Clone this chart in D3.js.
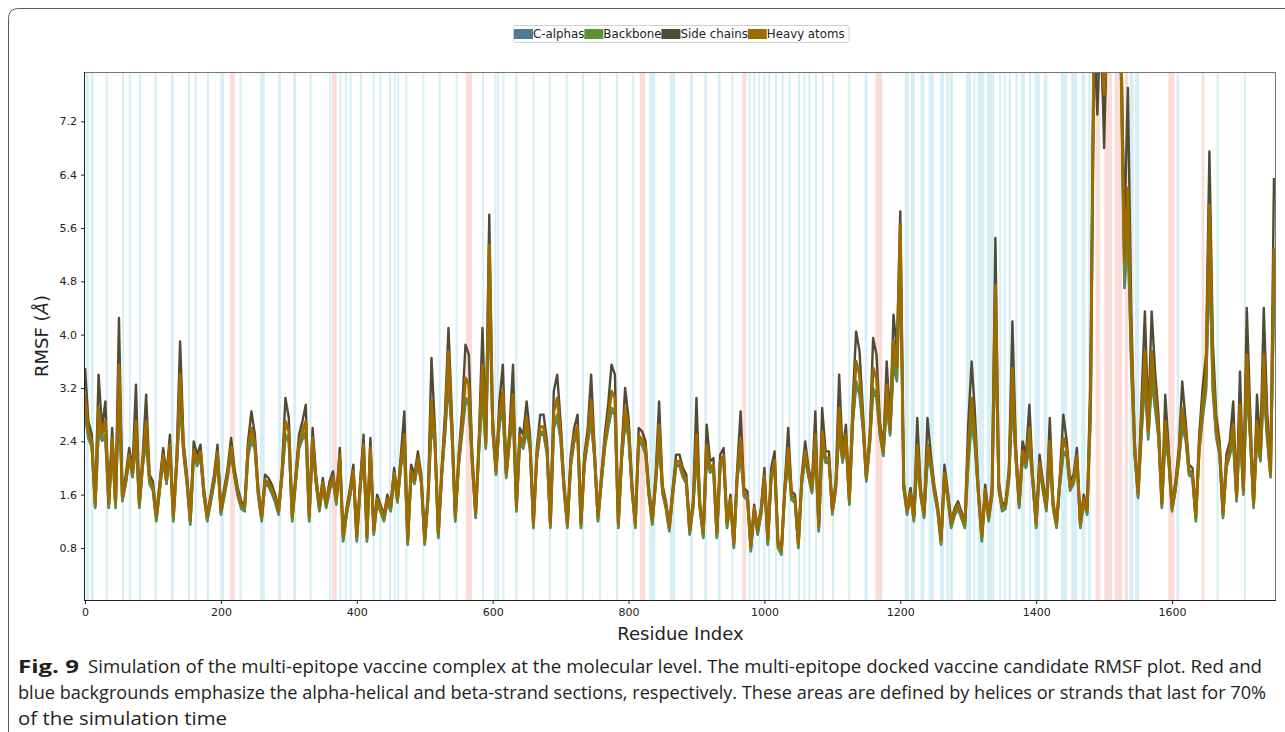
<!DOCTYPE html>
<html><head><meta charset="utf-8">
<script src="https://cdn.jsdelivr.net/npm/d3@7"></script>
<style>body{margin:0;background:#fff;} svg{display:block;}</style>
</head><body>
<svg id="chart" width="1285" height="732"></svg>
<script>
// ---------- data ----------
const residueStep = 5;
const residueDomain = [0, 1753];
const xTickValues = [0, 200, 400, 600, 800, 1000, 1200, 1400, 1600];
const yTickValues = [0.8, 1.6, 2.4, 3.2, 4.0, 4.8, 5.6, 6.4, 7.2];
const yDomain = [0.02, 7.94];
const seriesNames = ["C-alphas", "Backbone", "Side chains", "Heavy atoms"];
const seriesColors = ["#4e7b97", "#5b9234", "#4f4b35", "#9d6b00"];
const seriesWidths = [2.6, 2.6, 2.4, 3.0];

const sideChains = [
3.5,2.7,2.5,1.5,3.4,2.6,3.0,1.5,2.6,1.5,
4.25,1.6,1.9,2.3,2.0,3.25,1.5,2.2,3.1,1.9,
1.8,1.3,1.8,2.3,1.9,2.5,1.3,2.2,3.9,2.4,
1.9,1.25,2.4,2.2,2.35,1.7,1.3,1.6,1.9,2.35,
1.4,1.7,2.0,2.45,2.0,1.7,1.5,1.45,2.4,2.85,
2.5,1.7,1.3,1.9,1.85,1.75,1.6,1.4,2.0,3.05,
2.75,1.3,1.9,2.5,2.7,2.95,1.3,2.6,1.9,1.45,
1.85,1.5,1.8,1.95,1.55,2.3,1.0,1.4,1.7,2.05,
1.0,1.8,2.5,1.0,2.45,1.1,1.6,1.45,1.3,
1.6,1.45,2.0,1.6,2.2,2.85,0.95,2.05,1.9,2.25,
1.9,0.95,1.65,3.65,2.6,1.05,2.0,2.85,4.1,2.8,
1.3,2.2,2.85,3.85,3.7,2.2,1.35,2.5,4.1,2.5,
5.8,2.8,2.0,3.0,3.55,1.95,2.6,3.55,1.45,2.6,
2.5,3.0,2.5,1.2,2.3,2.8,2.8,2.4,1.2,3.15,
3.4,2.7,1.8,1.2,2.2,2.6,2.8,1.2,2.2,2.6,
3.4,2.3,1.3,1.9,2.5,2.95,3.55,3.4,1.2,2.3,
3.2,2.75,1.8,1.2,2.6,2.55,2.4,1.7,1.25,1.9,
3.0,1.75,1.5,1.15,1.7,2.2,
2.2,2.0,1.9,1.1,1.5,3.05,1.5,1.05,2.65,2.1,
2.15,1.05,2.2,2.3,1.2,1.6,0.9,2.0,2.85,1.7,
1.65,0.85,1.45,1.1,1.4,2.0,0.95,2.0,2.25,0.9,
0.8,1.75,2.6,1.65,1.6,0.9,1.9,2.4,2.0,1.75,
2.85,1.15,2.9,2.25,2.25,1.4,1.8,3.4,2.25,2.65,
1.55,3.0,4.05,3.75,2.85,1.9,2.5,3.95,3.7,2.7,
2.3,3.6,2.7,4.3,3.75,5.85,1.8,1.4,1.7,1.3,
2.75,1.7,1.35,2.75,2.2,1.75,1.45,0.95,2.05,1.65,
1.2,1.4,1.5,1.35,1.2,2.65,3.6,
2.8,1.7,1.0,1.75,1.3,1.7,5.45,1.8,1.45,1.5,
2.0,4.2,2.35,1.5,2.4,2.2,2.95,1.9,1.2,2.2,
1.8,1.45,2.75,1.5,1.2,1.9,2.8,2.4,1.8,1.9,
2.3,1.2,1.6,1.4,3.4,8.6,7.3,8.8,6.8,9.0,
9.2,9.0,8.8,8.5,5.6,7.7,4.3,2.4,1.65,3.0,
4.35,2.7,4.35,3.45,2.8,1.5,3.1,2.3,1.45,1.8,
2.3,3.3,2.7,2.05,2.0,1.3,2.5,3.2,3.7,6.75,
3.9,2.8,2.4,1.35,2.2,2.4,3.0,1.6,3.45,1.7,
4.4,2.85,1.5,3.1,2.3,4.4,2.85,2.0,6.35];

const heavyAtoms = [
3.1,2.55,2.4,1.47,2.9,2.5,2.7,1.47,2.45,1.47,
3.55,1.57,1.82,2.2,1.92,2.7,1.47,2.1,2.7,1.82,
1.72,1.27,1.72,2.2,1.82,2.35,1.27,2.1,3.4,2.3,
1.82,1.22,2.28,2.1,2.25,1.63,1.27,1.54,1.82,2.24,
1.37,1.63,1.92,2.32,1.92,1.63,1.45,1.42,2.28,2.6,
2.38,1.63,1.27,1.82,1.78,1.68,1.54,1.37,1.92,2.7,
2.55,1.27,1.82,2.38,2.55,2.7,1.27,2.45,1.82,1.42,
1.78,1.47,1.72,1.87,1.52,2.2,0.97,1.35,1.63,1.96,
0.97,1.72,2.35,0.97,2.3,1.07,1.54,1.4,1.27,
1.54,1.42,1.92,1.54,2.1,2.5,0.92,1.96,1.82,2.15,
1.82,0.92,1.58,3.0,2.45,1.02,1.92,2.65,3.75,2.62,
1.27,2.1,2.65,3.35,3.25,2.1,1.32,2.38,3.55,2.38,
5.35,2.65,1.97,2.8,3.15,1.92,2.48,3.1,1.42,2.48,
2.38,2.75,2.38,1.17,2.2,2.62,2.62,2.3,1.17,2.85,
3.05,2.55,1.72,1.17,2.1,2.48,2.62,1.17,2.1,2.48,
3.0,2.2,1.27,1.82,2.38,2.75,3.15,3.05,1.17,2.2,
2.9,2.6,1.72,1.17,2.48,2.43,2.3,1.63,1.22,1.82,
2.65,1.68,1.45,1.12,1.63,2.1,
2.1,1.92,1.82,1.07,1.45,2.5,1.45,1.02,2.35,2.0,
2.05,1.02,2.1,2.18,1.17,1.54,0.87,1.9,2.45,1.63,
1.58,0.82,1.4,1.07,1.35,1.88,0.92,1.9,2.12,0.87,
0.77,1.68,2.3,1.58,1.54,0.87,1.82,2.25,1.92,1.68,
2.5,1.12,2.55,2.15,2.15,1.37,1.72,2.9,2.15,2.5,
1.52,2.8,3.6,3.4,2.7,1.87,2.4,3.5,3.35,2.58,
2.25,3.25,2.58,3.9,3.5,5.65,1.74,1.37,1.63,1.27,
2.35,1.63,1.32,2.35,2.08,1.68,1.4,0.92,1.92,1.58,
1.17,1.35,1.45,1.3,1.17,2.3,3.05,
2.5,1.63,0.97,1.68,1.27,1.63,4.75,1.72,1.42,1.45,
1.9,3.5,2.22,1.47,2.25,2.08,2.6,1.82,1.17,2.08,
1.72,1.42,2.4,1.45,1.17,1.82,2.45,2.28,1.72,1.82,
2.18,1.17,1.54,1.37,3.0,8.4,8.3,8.6,7.6,8.8,
9.0,8.8,8.6,8.2,5.1,6.2,3.9,2.3,1.62,2.7,
3.75,2.55,3.75,3.15,2.6,1.47,2.7,2.18,1.42,1.72,
2.18,2.9,2.55,1.96,1.92,1.27,2.35,2.95,3.4,5.95,
3.5,2.6,2.28,1.32,2.08,2.28,2.65,1.57,2.95,1.67,
3.7,2.6,1.47,2.7,2.18,3.7,2.6,1.92,5.3];

const backbone = [
2.85,2.48,2.34,1.42,2.6,2.44,2.5,1.42,2.38,1.42,
3.2,1.52,1.78,2.15,1.88,2.45,1.42,2.05,2.45,1.78,
1.68,1.22,1.68,2.15,1.78,2.28,1.22,2.05,3.05,2.24,
1.78,1.17,2.22,2.05,2.19,1.59,1.22,1.5,1.78,2.18,
1.32,1.59,1.88,2.26,1.88,1.59,1.41,1.37,2.22,2.45,
2.32,1.59,1.22,1.78,1.74,1.64,1.5,1.32,1.88,2.5,
2.45,1.22,1.78,2.32,2.47,2.55,1.22,2.38,1.78,1.37,
1.74,1.42,1.68,1.83,1.47,2.15,0.92,1.31,1.59,1.91,
0.92,1.68,2.28,0.92,2.24,1.02,1.5,1.36,1.22,
1.5,1.37,1.88,1.5,2.05,2.3,0.87,1.91,1.78,2.1,
1.78,0.87,1.54,2.7,2.38,0.97,1.88,2.55,3.4,2.54,
1.22,2.05,2.55,3.05,3.0,2.05,1.27,2.32,3.2,2.32,
4.8,2.57,1.92,2.7,2.9,1.87,2.42,2.85,1.37,2.42,
2.32,2.6,2.32,1.12,2.15,2.54,2.54,2.24,1.12,2.65,
2.8,2.47,1.68,1.12,2.05,2.42,2.54,1.12,2.05,2.42,
2.75,2.15,1.22,1.78,2.32,2.65,2.9,2.85,1.12,2.15,
2.7,2.52,1.68,1.12,2.42,2.37,2.24,1.59,1.17,1.78,
2.45,1.64,1.41,1.07,1.59,2.05,
2.05,1.88,1.78,1.02,1.41,2.25,1.41,0.97,2.2,1.95,
2.0,0.97,2.05,2.12,1.12,1.5,0.82,1.85,2.25,1.59,
1.54,0.77,1.36,1.02,1.31,1.83,0.87,1.85,2.06,0.82,
0.72,1.64,2.15,1.54,1.5,0.82,1.78,2.18,1.88,1.64,
2.3,1.07,2.35,2.1,2.1,1.32,1.68,2.6,2.1,2.43,
1.47,2.7,3.3,3.15,2.62,1.82,2.35,3.2,3.1,2.52,
2.2,3.0,2.52,3.6,3.35,5.3,1.7,1.32,1.59,1.22,
2.15,1.59,1.27,2.15,2.02,1.64,1.36,0.87,1.86,1.54,
1.12,1.31,1.41,1.26,1.12,2.1,2.75,
2.35,1.59,0.92,1.64,1.22,1.59,4.2,1.68,1.37,1.41,
1.85,3.1,2.16,1.42,2.18,2.02,2.4,1.78,1.12,2.02,
1.68,1.37,2.2,1.41,1.12,1.78,2.25,2.22,1.68,1.78,
2.12,1.12,1.5,1.32,2.8,8.2,8.0,8.4,7.4,8.6,
8.8,8.6,8.4,8.0,4.8,5.6,3.6,2.22,1.57,2.55,
3.4,2.47,3.4,2.95,2.5,1.42,2.5,2.12,1.37,1.68,
2.12,2.65,2.47,1.91,1.88,1.22,2.28,2.8,3.2,5.3,
3.2,2.5,2.22,1.27,2.02,2.22,2.45,1.52,2.65,1.62,
3.3,2.48,1.42,2.5,2.12,3.3,2.48,1.88,4.7];

const cAlphas = [
2.8,2.45,2.31,1.4,2.55,2.41,2.45,1.4,2.35,1.4,
3.1,1.5,1.76,2.13,1.86,2.4,1.4,2.03,2.4,1.76,
1.66,1.2,1.66,2.13,1.76,2.25,1.2,2.03,3.0,2.21,
1.76,1.15,2.19,2.03,2.16,1.57,1.2,1.48,1.76,2.15,
1.3,1.57,1.86,2.23,1.86,1.57,1.39,1.35,2.19,2.4,
2.29,1.57,1.2,1.76,1.72,1.62,1.48,1.3,1.86,2.45,
2.41,1.2,1.76,2.29,2.43,2.5,1.2,2.35,1.76,1.35,
1.72,1.4,1.66,1.81,1.45,2.13,0.9,1.29,1.57,1.89,
0.9,1.66,2.25,0.9,2.21,1.0,1.48,1.34,1.2,
1.48,1.35,1.86,1.48,2.03,2.25,0.85,1.89,1.76,2.08,
1.76,0.85,1.52,2.65,2.35,0.95,1.86,2.51,3.3,2.5,
1.2,2.03,2.51,3.0,2.95,2.03,1.25,2.29,3.1,2.29,
4.7,2.53,1.9,2.66,2.85,1.85,2.39,2.8,1.35,2.39,
2.29,2.55,2.29,1.1,2.13,2.5,2.5,2.21,1.1,2.6,
2.75,2.43,1.66,1.1,2.03,2.39,2.5,1.1,2.03,2.39,
2.7,2.13,1.2,1.76,2.29,2.6,2.85,2.8,1.1,2.13,
2.65,2.48,1.66,1.1,2.39,2.34,2.21,1.57,1.15,1.76,
2.4,1.62,1.39,1.05,1.57,2.03,
2.03,1.86,1.76,1.0,1.39,2.2,1.39,0.95,2.15,1.93,
1.98,0.95,2.03,2.1,1.1,1.48,0.8,1.83,2.2,1.57,
1.52,0.75,1.34,1.0,1.29,1.81,0.85,1.83,2.03,0.8,
0.7,1.62,2.1,1.52,1.48,0.8,1.76,2.15,1.86,1.62,
2.25,1.05,2.3,2.08,2.08,1.3,1.66,2.55,2.08,2.4,
1.45,2.66,3.25,3.1,2.58,1.8,2.33,3.15,3.05,2.49,
2.18,2.95,2.49,3.55,3.3,5.2,1.68,1.3,1.57,1.2,
2.1,1.57,1.25,2.1,2.0,1.62,1.34,0.85,1.84,1.52,
1.1,1.29,1.39,1.24,1.1,2.05,2.7,
2.3,1.57,0.9,1.62,1.2,1.57,4.1,1.66,1.35,1.39,
1.83,3.0,2.13,1.4,2.15,2.0,2.35,1.76,1.1,2.0,
1.66,1.35,2.15,1.39,1.1,1.76,2.2,2.19,1.66,1.76,
2.1,1.1,1.48,1.3,2.75,8.1,7.9,8.3,7.3,8.5,
8.7,8.5,8.3,7.9,4.7,5.5,3.5,2.19,1.55,2.5,
3.3,2.43,3.3,2.9,2.46,1.4,2.45,2.1,1.35,1.66,
2.1,2.6,2.43,1.89,1.86,1.2,2.25,2.75,3.15,5.2,
3.15,2.46,2.19,1.25,2.0,2.19,2.4,1.5,2.6,1.6,
3.2,2.44,1.4,2.45,2.1,3.2,2.44,1.86,4.6];

// alpha-helical (red) and beta-strand (blue) residue ranges
const helixSpans = [[214,220],[364,370],[561,569],[817,824],[968,973],[1164,1173],
  [1488,1494],[1501,1511],[1516,1526],[1531,1535],[1595,1603],[1644,1647]];
const strandSpans = [[2,5],[9,12],[31,33],[55,57],[65,67],[80,82],[103,105],[127,130],
  [152,154],[162,164],[180,182],[200,204],[228,230],[258,264],[285,288],[307,310],[331,333],
  [360,362],[375,377],[383,385],[390,392],[405,407],[424,426],[434,436],
  [448,450],[455,457],[460,462],[472,474],[497,499],[521,523],[546,548],[585,587],[603,605],
  [607,609],[615,617],[634,636],[659,661],[683,685],[708,710],[732,734],[757,759],[782,784],
  [806,808],[831,839],[861,868],
  [891,894],[912,915],[932,935],[952,954],[977,979],[984,986],[991,993],[999,1001],[1006,1008],
  [1016,1018],[1026,1028],[1036,1038],[1050,1052],[1058,1060],[1065,1067],[1075,1077],
  [1085,1087],[1100,1102],[1124,1126],[1148,1151],[1207,1212],[1216,1221],[1230,1235],
  [1242,1249],[1259,1264],[1268,1271],[1273,1277],[1297,1304],[1308,1310],
  [1314,1323],[1328,1338],[1346,1348],[1353,1355],[1360,1362],[1370,1372],[1378,1383],
  [1390,1392],[1398,1405],[1412,1416],[1437,1445],[1452,1460],[1467,1472],[1477,1480],
  [1538,1543],[1546,1551],[1607,1610],[1666,1668],[1706,1708]];

const captionBold = "Fig. 9";
const captionLines = [
  "Simulation of the multi-epitope vaccine complex at the molecular level. The multi-epitope docked vaccine candidate RMSF plot. Red and",
  "blue backgrounds emphasize the alpha-helical and beta-strand sections, respectively. These areas are defined by helices or strands that last for 70%",
  "of the simulation time"];

// ---------- drawing ----------
const svg = d3.select("#chart");
const plot = {left: 85, right: 1276, top: 72, bottom: 600};
const x = d3.scaleLinear().domain(residueDomain).range([plot.left, plot.right]);
const y = d3.scaleLinear().domain(yDomain).range([plot.bottom, plot.top]);
const residues = d3.range(sideChains.length).map(i => i * residueStep);

// figure frame
svg.append("path").attr("d", "M8.5,732 V18.5 Q8.5,8.5 18.5,8.5 H1285")
  .attr("fill", "none").attr("stroke", "#5a5a5a").attr("stroke-width", 1);

svg.append("defs").append("clipPath").attr("id", "clip")
  .append("rect").attr("x", plot.left).attr("y", plot.top)
  .attr("width", plot.right - plot.left).attr("height", plot.bottom - plot.top);

const bg = svg.append("g").attr("clip-path", "url(#clip)");
bg.selectAll("rect.strand").data(strandSpans).join("rect").attr("class", "strand")
  .attr("x", d => x(d[0] - 0.5)).attr("width", d => x(d[1] + 0.5) - x(d[0] - 0.5))
  .attr("y", plot.top).attr("height", plot.bottom - plot.top).attr("fill", "#d6eef5");
bg.selectAll("rect.helix").data(helixSpans).join("rect").attr("class", "helix")
  .attr("x", d => x(d[0] - 0.5)).attr("width", d => x(d[1] + 0.5) - x(d[0] - 0.5))
  .attr("y", plot.top).attr("height", plot.bottom - plot.top).attr("fill", "#fbdcd6");

const seriesData = [cAlphas, backbone, sideChains, heavyAtoms];
const line = d3.line().x((d, i) => x(residues[i])).y(d => y(d));
const lines = svg.append("g").attr("clip-path", "url(#clip)");
seriesData.forEach((s, k) => {
  lines.append("path").datum(s).attr("d", line).attr("fill", "none")
    .attr("stroke", seriesColors[k]).attr("stroke-width", seriesWidths[k])
    .attr("stroke-linejoin", "round");
});

// axes
const font = "'DejaVu Sans', sans-serif";
const xAxis = svg.append("g").attr("transform", `translate(0,${plot.bottom})`)
  .call(d3.axisBottom(x).tickValues(xTickValues).tickFormat(d3.format("d")).tickSize(4).tickPadding(4));
const yAxis = svg.append("g").attr("transform", `translate(${plot.left},0)`)
  .call(d3.axisLeft(y).tickValues(yTickValues).tickFormat(d3.format(".1f")).tickSize(4).tickPadding(4));
[xAxis, yAxis].forEach(g => {
  g.select(".domain").remove();
  g.selectAll("text").attr("font-family", font).attr("font-size", 11).attr("fill", "#222");
  g.selectAll("line").attr("stroke", "#222");
});

// spines
svg.append("line").attr("x1", plot.left).attr("x2", plot.right).attr("y1", plot.top + 0.5).attr("y2", plot.top + 0.5).attr("stroke", "#777");
svg.append("line").attr("x1", plot.right - 0.5).attr("x2", plot.right - 0.5).attr("y1", plot.top).attr("y2", plot.bottom).attr("stroke", "#777");
svg.append("line").attr("x1", plot.left).attr("x2", plot.right).attr("y1", plot.bottom + 0.5).attr("y2", plot.bottom + 0.5).attr("stroke", "#222");
svg.append("line").attr("x1", plot.left - 0.5).attr("x2", plot.left - 0.5).attr("y1", plot.top).attr("y2", plot.bottom + 1).attr("stroke", "#222");

// axis labels
svg.append("text").attr("x", (plot.left + plot.right) / 2).attr("y", 640)
  .attr("text-anchor", "middle").attr("font-family", font).attr("font-size", 18).attr("fill", "#222")
  .text("Residue Index");
const yl = svg.append("text").attr("transform", `translate(48,${(plot.top + plot.bottom) / 2}) rotate(-90)`)
  .attr("text-anchor", "middle").attr("font-family", font).attr("font-size", 18).attr("fill", "#222");
yl.append("tspan").text("RMSF (");
yl.append("tspan").attr("font-style", "italic").text("Å");
yl.append("tspan").text(")");

// legend
const lg = svg.append("g");
const border = lg.append("rect");
let lx = 1;
const patchW = 19;
seriesNames.forEach((name, i) => {
  lg.append("rect").attr("x", lx).attr("y", 4).attr("width", patchW).attr("height", 10).attr("fill", seriesColors[i]);
  const t = lg.append("text").attr("x", lx + patchW).attr("y", 13.2).attr("font-family", font)
    .attr("font-size", 11.8).attr("fill", "#222").text(name);
  lx += patchW + t.node().getComputedTextLength();
});
const lw = lx + 4;
border.attr("x", 0.5).attr("y", 0.5).attr("width", lw).attr("height", 17).attr("rx", 2)
  .attr("fill", "#fff").attr("stroke", "#d0d0d0");
lg.attr("transform", `translate(${Math.round((plot.left + plot.right) / 2 - lw / 2)},25)`);

// caption
const capFont = "'Liberation Sans Narrow', 'Open Sans', sans-serif";
const baselines = [673, 699, 725];
svg.append("text").attr("x", 18).attr("y", baselines[0]).attr("font-family", capFont)
  .attr("font-size", 18).attr("font-weight", "bold").attr("fill", "#231f20")
  .attr("textLength", 61).attr("lengthAdjust", "spacingAndGlyphs").text(captionBold);
const capStarts = [88, 18, 18];
const capEnds = [1262, 1266, 227];
captionLines.forEach((txt, i) => {
  svg.append("text").attr("x", capStarts[i]).attr("y", baselines[i]).attr("font-family", capFont)
    .attr("font-size", 18).attr("fill", "#231f20")
    .attr("textLength", capEnds[i] - capStarts[i]).attr("lengthAdjust", "spacingAndGlyphs").text(txt);
});
</script>
</body></html>
